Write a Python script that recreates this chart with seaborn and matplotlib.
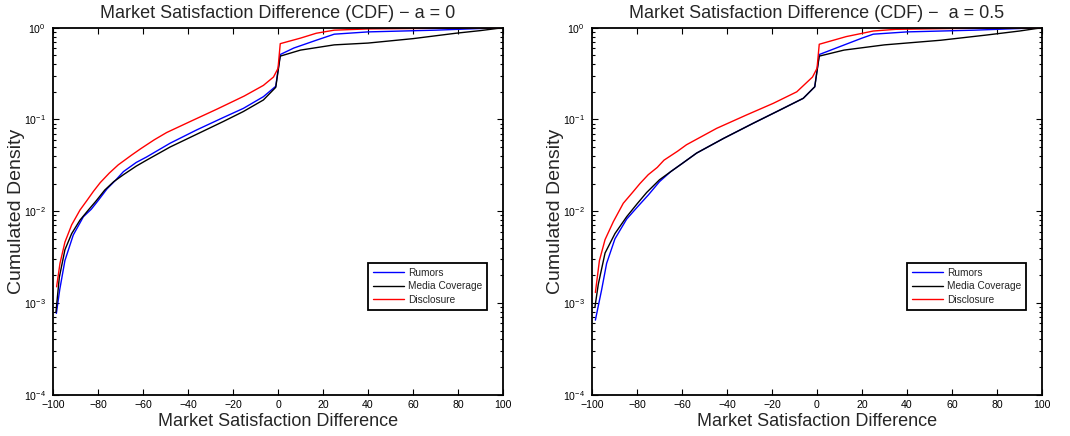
import numpy as np
import pandas as pd
import matplotlib
matplotlib.use("Agg")
import matplotlib.pyplot as plt
import seaborn as sns

# ---------------- data ----------------
series_names = ["Rumors", "Media Coverage", "Disclosure"]
series_colors = ["#0000ff", "#000000", "#ff0000"]

# Left panel: a = 0
left_rumors_x = [-98.5, -97, -94.7, -91, -86.5, -83, -80, -76, -72, -68.7, -63, -58.4, -48, -36.1, -24.3, -15.4, -6.5, -1, 1, 7, 17, 25, 40, 70, 85, 100]
left_rumors_y = [7.7e-4, 1.4e-3, 2.9e-3, 5.5e-3, 8.7e-3, 0.0105, 0.013, 0.0175, 0.022, 0.027, 0.034, 0.039, 0.055, 0.077, 0.105, 0.132, 0.177, 0.23, 0.51, 0.60, 0.73, 0.85, 0.90, 0.94, 0.97, 1.0]

left_media_x = [-98.7, -97.2, -94.7, -91.7, -88, -84, -81, -77, -73, -68.7, -63, -58.4, -48, -36.1, -24.3, -15.4, -6.5, -1, 1, 10, 25, 40, 60, 79, 90, 100]
left_media_y = [7.9e-4, 1.9e-3, 3.8e-3, 5.7e-3, 8.0e-3, 0.0105, 0.0128, 0.017, 0.021, 0.025, 0.031, 0.036, 0.050, 0.069, 0.095, 0.122, 0.163, 0.224, 0.49, 0.57, 0.65, 0.68, 0.76, 0.87, 0.93, 1.0]

left_discl_x = [-98.4, -96.9, -94.7, -91.7, -88, -85, -82, -79, -75, -71, -65, -61, -55, -49.5, -39, -27, -15, -6.5, -2, 0, 1, 10, 17, 25, 40, 60, 80, 100]
left_discl_y = [1.5e-3, 2.7e-3, 4.6e-3, 7.1e-3, 0.0103, 0.013, 0.0165, 0.0205, 0.026, 0.032, 0.041, 0.048, 0.060, 0.072, 0.095, 0.13, 0.18, 0.235, 0.29, 0.36, 0.67, 0.77, 0.87, 0.94, 0.97, 0.98, 0.99, 1.0]

# Right panel: a = 0.5
right_rumors_x = [-98.5, -95.7, -93.5, -89.8, -84.6, -80, -75, -70, -65, -60, -53.5, -41.6, -28.3, -16.4, -6.1, -1, 1, 10, 20, 25, 40, 70, 85, 100]
right_rumors_y = [6.5e-4, 1.4e-3, 2.7e-3, 5.0e-3, 8.2e-3, 0.011, 0.015, 0.021, 0.027, 0.033, 0.043, 0.062, 0.091, 0.127, 0.17, 0.227, 0.51, 0.62, 0.77, 0.85, 0.90, 0.94, 0.97, 1.0]

right_media_x = [-98.7, -97.2, -94.2, -89.8, -84.6, -80, -75.7, -70, -65, -60, -53.5, -41.6, -28.3, -16.4, -6.1, -1, 1, 12, 30, 55, 75, 90, 100]
right_media_y = [9.0e-4, 1.6e-3, 3.5e-3, 5.7e-3, 8.7e-3, 0.012, 0.016, 0.022, 0.027, 0.033, 0.043, 0.062, 0.091, 0.127, 0.17, 0.227, 0.49, 0.57, 0.65, 0.73, 0.83, 0.92, 1.0]

right_discl_x = [-98.5, -96.7, -94.2, -90.5, -86.1, -82, -78.7, -75, -71, -68, -62, -58, -44.6, -31.3, -19.4, -9, -2, 0, 1, 13, 25, 35, 60, 100]
right_discl_y = [1.3e-3, 2.9e-3, 4.9e-3, 7.7e-3, 0.0122, 0.016, 0.020, 0.025, 0.030, 0.036, 0.045, 0.053, 0.080, 0.112, 0.15, 0.20, 0.29, 0.36, 0.66, 0.80, 0.92, 0.96, 0.98, 1.0]

titles = ["Market Satisfaction Difference (CDF) \u2212 a = 0",
          "Market Satisfaction Difference (CDF) \u2212  a = 0.5"]
x_label = "Market Satisfaction Difference"
y_label = "Cumulated Density"
x_ticks = [-100, -80, -60, -40, -20, 0, 20, 40, 60, 80, 100]


def make_frame(xs, ys):
    rows = []
    for name, x, y in zip(series_names, xs, ys):
        rows.append(pd.DataFrame({"x": x, "y": y, "series": name}))
    return pd.concat(rows, ignore_index=True)


panels = [
    make_frame([left_rumors_x, left_media_x, left_discl_x],
               [left_rumors_y, left_media_y, left_discl_y]),
    make_frame([right_rumors_x, right_media_x, right_discl_x],
               [right_rumors_y, right_media_y, right_discl_y]),
]

# ---------------- style ----------------
sns.set_style("white")
plt.rcParams["font.family"] = ["Liberation Sans", "DejaVu Sans"]
plt.rcParams["mathtext.default"] = "regular"
plt.rcParams["mathtext.fontset"] = "custom"
plt.rcParams["mathtext.rm"] = "Liberation Sans"
plt.rcParams["mathtext.it"] = "Liberation Sans"

fig = plt.figure(figsize=(10.7, 4.36), dpi=100)
axes_rects = [[53 / 1070, 1 - 394.7 / 436, 450 / 1070, 367 / 436],
              [592 / 1070, 1 - 394.7 / 436, 450 / 1070, 367 / 436]]

for rect, df, title in zip(axes_rects, panels, titles):
    ax = fig.add_axes(rect)
    sns.lineplot(data=df, x="x", y="y", hue="series", hue_order=series_names,
                 palette=series_colors, estimator=None, sort=True,
                 linewidth=1.0, ax=ax)
    ax.set_yscale("log")
    ax.set_xlim(-100, 100)
    ax.set_ylim(1e-4, 1)
    ax.set_xticks(x_ticks)
    ax.set_yticks([1e-4, 1e-3, 1e-2, 1e-1, 1])
    ax.yaxis.set_minor_locator(matplotlib.ticker.LogLocator(base=10, subs=np.arange(2, 10)))
    ax.yaxis.set_minor_formatter(matplotlib.ticker.NullFormatter())
    ax.tick_params(which="both", direction="in", top=True, right=True,
                   bottom=True, left=True, colors="black", labelsize=7.6,
                   width=0.8)
    ax.tick_params(which="major", length=4.5)
    ax.tick_params(which="minor", length=2.5)
    ax.tick_params(axis="x", pad=4)
    ax.tick_params(axis="y", pad=5)
    for sp in ax.spines.values():
        sp.set_visible(True)
        sp.set_color("black")
        sp.set_linewidth(1.3)
    ax.set_title(title, fontsize=13, pad=7)
    ax.set_xlabel(x_label, fontsize=13, labelpad=2)
    ax.set_ylabel(y_label, fontsize=14)
    ax.yaxis.set_label_coords(-0.063, 0.5)
    leg = ax.legend(loc="lower right", bbox_to_anchor=(0.965, 0.231),
                    borderaxespad=0, fontsize=7.3, frameon=True,
                    fancybox=False, framealpha=1, edgecolor="black",
                    handlelength=3.0, handletextpad=0.4, labelspacing=0.35,
                    borderpad=0.5)
    leg.get_frame().set_linewidth(1.3)

fig.savefig("out.png", dpi=100)
